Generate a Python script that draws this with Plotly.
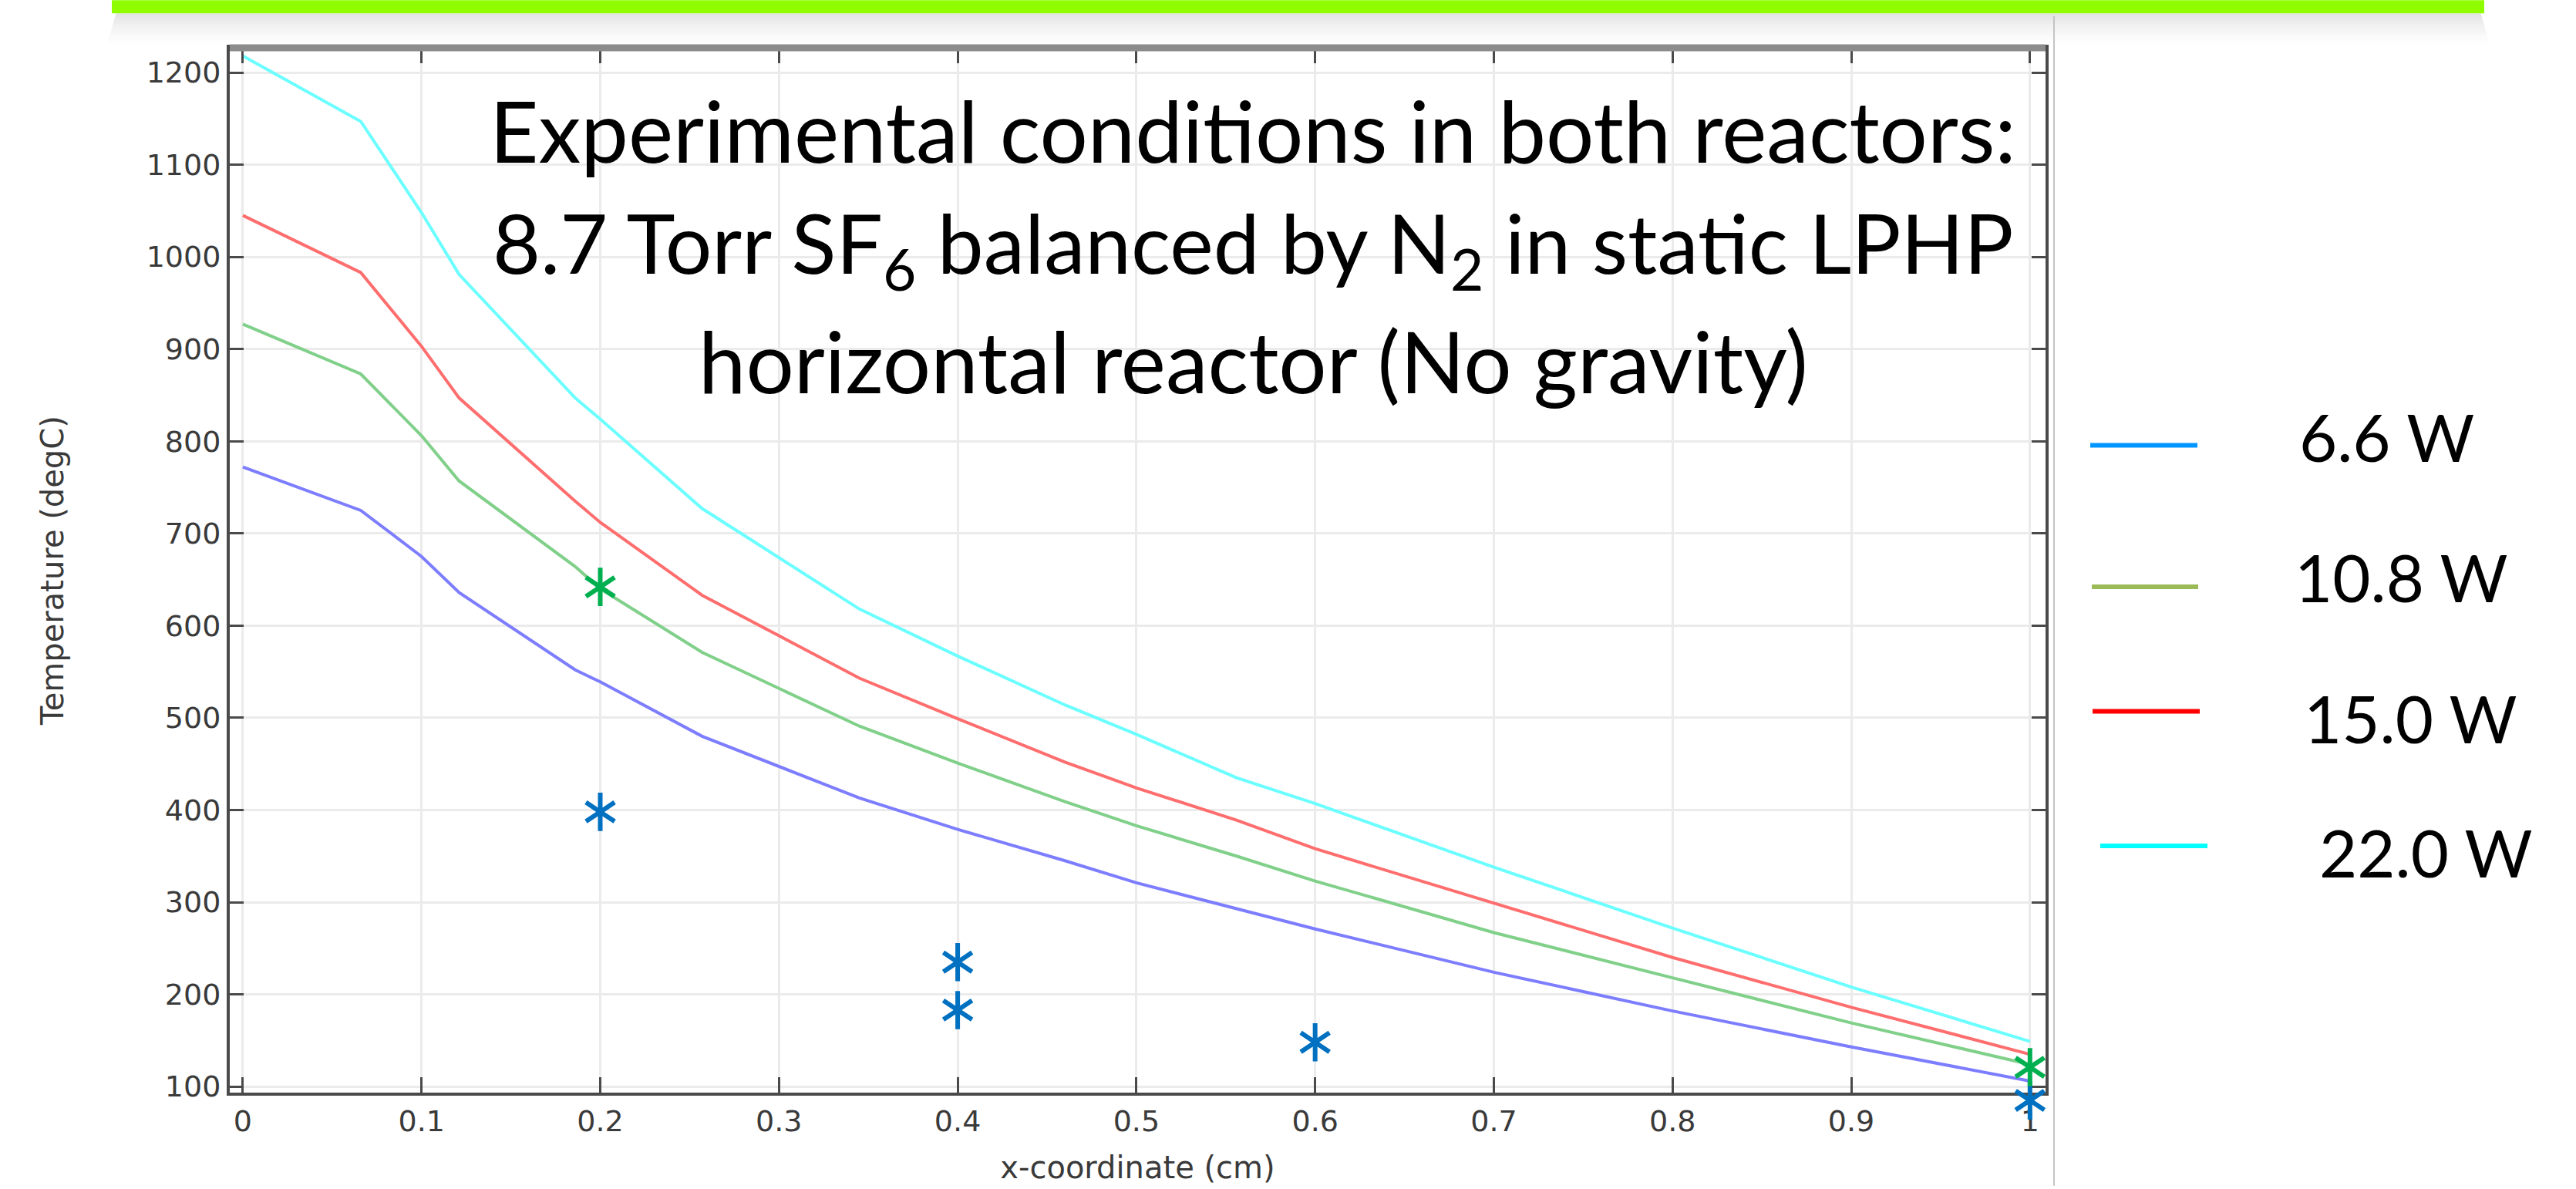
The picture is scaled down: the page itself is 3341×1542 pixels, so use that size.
import plotly.graph_objects as go

# ---------------- data ----------------
x_nodes = [0, 0.066, 0.1, 0.121, 0.186, 0.2, 0.257, 0.345, 0.4, 0.46, 0.5,
           0.556, 0.6, 0.7, 0.8, 0.9, 1.0]
t_6_6W = [772, 725, 675, 636, 552, 539, 480, 413, 379, 345, 321,
          293, 271, 224, 182, 143, 106]
t_10_8W = [927, 873, 806, 757, 664, 640, 571, 491, 451, 409, 383,
           350, 323, 267, 218, 169, 124]
t_15_0W = [1045, 983, 903, 847, 735, 712, 633, 543, 499, 452, 424,
           389, 358, 299, 240, 186, 135]
t_22_0W = [1218, 1147, 1048, 981, 847, 824, 727, 618, 567, 514, 482,
           435, 407, 338, 272, 208, 149]

series_names = ["6.6 W", "10.8 W", "15.0 W", "22.0 W"]
series_values = [t_6_6W, t_10_8W, t_15_0W, t_22_0W]
line_colors = ["#7D7DFF", "#80D08A", "#FF6E6E", "#6BFFFF"]
legend_colors = ["#0096FF", "#9BBB59", "#FF0000", "#00FFFF"]

exp_x_6_6W = [0.2, 0.4, 0.4, 0.6, 1.0]
exp_t_6_6W = [398, 235, 183, 148, 85]
exp_x_10_8W = [0.2, 1.0]
exp_t_10_8W = [642, 121]
star_colors = ["#0070C0", "#00B050"]

x_tick_vals = [0, 0.1, 0.2, 0.3, 0.4, 0.5, 0.6, 0.7, 0.8, 0.9, 1.0]
x_tick_text = ["0", "0.1", "0.2", "0.3", "0.4", "0.5", "0.6", "0.7", "0.8", "0.9", "1"]
y_tick_vals = [100, 200, 300, 400, 500, 600, 700, 800, 900, 1000, 1100, 1200]

note_lines = [
    "Experimental conditions in both reactors:",
    "8.7 Torr SF<sub>6</sub> balanced by N<sub>2</sub> in static LPHP",
    "horizontal reactor (No gravity)",
]

# ---------------- layout helpers ----------------
W, H = 3341, 1542
L, R, T, B = 298, 2653, 62, 1421      # main plot frame in pixels
B_EXT = 1482                          # lower edge of the (invisible) marker overlay
X_RANGE = [-0.0073, 1.0087]
Y_RANGE = [93.3, 1226.8]
px_per_unit = (B - T) / (Y_RANGE[1] - Y_RANGE[0])
Y_RANGE_EXT = [Y_RANGE[0] - (B_EXT - B) / px_per_unit, Y_RANGE[1]]
main_dom0 = (B_EXT - B) / (B_EXT - T)


def px(x):
    return (x - L) / (R - L)


def py(y):
    return (B_EXT - y) / (B_EXT - T)


fig = go.Figure()

for name, vals, col in zip(series_names, series_values, line_colors):
    fig.add_trace(go.Scatter(x=x_nodes, y=vals, mode="lines", name=name,
                             xaxis="x", yaxis="y",
                             line=dict(color=col, width=4), showlegend=False))

# experimental points on an overlay axis pair with identical scaling
for xs, ys, col in [(exp_x_6_6W, exp_t_6_6W, star_colors[0]),
                    (exp_x_10_8W, exp_t_10_8W, star_colors[1])]:
    for sym in ["y-up-open", "y-down-open"]:
        fig.add_trace(go.Scatter(x=xs, y=ys, mode="markers", showlegend=False,
                                 cliponaxis=False, xaxis="x2", yaxis="y2",
                                 marker=dict(symbol=sym, size=31, color=col,
                                             line=dict(color=col, width=6))))

shapes = []
# green header bar + soft shadow
for i in range(12):
    shapes.append(dict(type="rect", xref="paper", yref="paper",
                       x0=px(150 - i), x1=px(3218 + i), y0=py(17 + 3.5 * (i + 1)),
                       y1=py(17 + 3.5 * i),
                       fillcolor="rgba(0,0,0,%.3f)" % (0.11 * (1 - i / 12) ** 1.5),
                       line=dict(width=0), layer="below"))
shapes.append(dict(type="rect", xref="paper", yref="paper",
                   x0=px(145), x1=px(3222), y0=py(17), y1=py(0),
                   fillcolor="#8FFC00", line=dict(width=0)))
# vertical separator line
shapes.append(dict(type="line", xref="paper", yref="paper",
                   x0=px(2664), x1=px(2664), y0=py(21), y1=py(1542),
                   line=dict(color="#C4C4C4", width=2)))
# thick grey top frame
shapes.append(dict(type="line", xref="paper", yref="paper",
                   x0=0, x1=1, y0=1, y1=1,
                   line=dict(color="#8C8C8C", width=9)))

annotations = []
# legend
leg_line_x = [(2711, 2850), (2713, 2851), (2714, 2853), (2724, 2863)]
leg_line_y = [579, 763, 925, 1100]
leg_text_x = [2980, 2974, 2986, 3006]
leg_text_y = [567, 750, 933, 1108]
for i, name in enumerate(series_names):
    x0, x1 = leg_line_x[i]
    shapes.append(dict(type="line", xref="paper", yref="paper",
                       x0=px(x0), x1=px(x1), y0=py(leg_line_y[i]), y1=py(leg_line_y[i]),
                       line=dict(color=legend_colors[i], width=6)))
    annotations.append(dict(xref="paper", yref="paper", x=px(leg_text_x[i]),
                            y=py(leg_text_y[i]), xanchor="left", yanchor="middle",
                            text=name, showarrow=False,
                            font=dict(family="Lato", size=85, color="#000000")))

# conditions note
note_y = [168, 322, 468]
note_size = [110, 107, 110]
for txt, yy, fs in zip(note_lines, note_y, note_size):
    annotations.append(dict(xref="paper", yref="paper", x=px(1625), y=py(yy),
                            xanchor="center", yanchor="middle", text=txt,
                            showarrow=False,
                            font=dict(family="Lato", size=fs, color="#000000")))

axis_font = dict(family="DejaVu Sans", size=38, color="#3A3A3A")
title_font = dict(family="DejaVu Sans", size=40, color="#3A3A3A")

fig.update_layout(
    width=W, height=H,
    margin=dict(l=L, r=W - R, t=T, b=H - B_EXT, pad=0),
    paper_bgcolor="white", plot_bgcolor="rgba(0,0,0,0)",
    showlegend=False,
    shapes=shapes, annotations=annotations,
    font=dict(family="DejaVu Sans", color="#333333"),
    xaxis=dict(
        domain=[0, 1], anchor="y",
        range=X_RANGE, tickmode="array", tickvals=x_tick_vals, ticktext=x_tick_text,
        showgrid=True, gridcolor="#EBEBEB", gridwidth=3, zeroline=False,
        showline=True, linecolor="#4A4A4A", linewidth=4, mirror="ticks",
        ticks="inside", ticklen=20, tickwidth=3, tickcolor="#4A4A4A",
        tickfont=axis_font,
        title=dict(text="x-coordinate (cm)", standoff=26, font=title_font),
    ),
    yaxis=dict(
        domain=[main_dom0, 1], anchor="x",
        range=Y_RANGE, tickmode="array", tickvals=y_tick_vals,
        showgrid=True, gridcolor="#EBEBEB", gridwidth=3, zeroline=False,
        showline=True, linecolor="#4A4A4A", linewidth=4, mirror="ticks",
        ticks="inside", ticklen=18, tickwidth=3, tickcolor="#4A4A4A",
        tickfont=axis_font,
        title=dict(text="Temperature (degC)", standoff=96, font=title_font),
    ),
    xaxis2=dict(domain=[0, 1], range=X_RANGE, anchor="y2", visible=False,
                showgrid=False, zeroline=False),
    yaxis2=dict(domain=[0, 1], range=Y_RANGE_EXT, anchor="x2", visible=False,
                showgrid=False, zeroline=False),
)

fig.write_html("out.html", config={"displayModeBar": False},
               post_script="document.body.style.margin='0';")
